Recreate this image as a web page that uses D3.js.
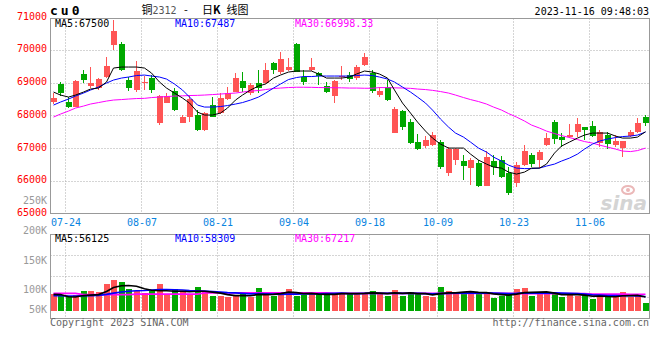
<!DOCTYPE html>
<html><head><meta charset="utf-8">
<script src="https://cdn.jsdelivr.net/npm/d3@7"></script>
<style>
body{margin:0;background:#fff}
text{font-family:"DejaVu Sans Mono",monospace;font-size:10px}
</style>
</head><body>
<svg id="chart" width="660" height="360"></svg>
<script>
// ---- data ----
const openP  = [68416,68958,68416,68263,69264,68897,68826,69181,70152,70173,69080,68774,69000,69132,67755,68385,68743,67773,67957,68009,
                67550,68315,68061,68490,68722,69059,68673,69000,69000,69591,69334,69386,70173,69181,69386,69285,68897,68590,69172,69233,
                69132,69539,69305,68621,68876,67467,68131,67804,67192,67060,67091,67173,66243,66631,66601,66377,66549,65845,66601,66631,
                66224,65918,66478,66784,66631,67091,67804,67345,67326,67498,67651,67672,67143,67397,67091,67008,67366,67498,67957];
const highP  = [68682,69019,68551,69080,69386,69488,69141,69793,70917,70253,69181,69671,69212,69233,68621,68673,68826,68009,68621,68162,
                68100,68551,68673,68857,69304,69334,68979,69386,69591,69641,69937,69745,70204,69386,69745,69334,69028,69080,69509,69334,
                69539,69916,69386,68876,69080,68263,68162,67886,67427,67366,67498,67244,67039,66999,66784,66693,66631,66907,66784,66754,
                66408,66579,67091,66855,66937,67458,67856,67458,67733,67908,67651,67835,67550,67498,67397,67213,67550,67908,68009];
const lowP   = [68346,68590,68214,68254,68979,68826,68774,69132,70000,69356,68753,68722,68774,68673,67703,68367,68131,67755,67804,67519,
                67519,67948,68040,68468,68713,68722,68621,68673,68958,69264,69264,69356,69325,68927,69356,68927,68673,68367,69080,69028,
                69080,69509,68673,68569,68453,67458,67550,67121,66937,66989,67060,66347,66141,66478,66019,65866,65805,65835,66172,66080,
                65560,65796,66448,66426,66387,67060,67121,67039,67305,67345,67244,67345,67039,66959,67039,66714,67326,67467,67672];
const closeP = [68520,68673,68263,69050,69080,69000,69101,69509,70589,69386,68826,69356,69030,68774,68590,68590,68162,67957,68490,67550,
                68061,67957,68520,68691,69132,68826,68927,68826,69386,69386,69714,69488,69334,69028,69488,69203,68722,69059,69193,69101,
                69488,69793,68743,68753,68468,68193,67632,67143,66959,67244,67397,66408,66959,66959,66448,66631,65836,66714,66427,66102,
                65612,66478,66907,66509,66885,67314,67274,67244,67397,67733,67550,67375,67498,67112,67213,67213,67479,67773,67773];
const ma5  = [68713,68621,68560,68621,68713,68805,68835,69019,69447,69478,69478,69478,69447,69294,69019,68835,68682,68529,68376,68101,
              68009,68009,68070,68223,68468,68621,68774,68897,68958,69141,69233,69325,69356,69356,69356,69264,69141,69141,69141,69172,
              69264,69356,69325,69264,69141,68774,68376,68070,67795,67519,67305,67121,66999,66999,66999,66815,66631,66509,66417,66386,
              66264,66203,66264,66386,66386,66509,66846,67060,67183,67305,67397,67458,67458,67458,67366,67305,67305,67335,67500];
const ma10 = [68315,68407,68499,68590,68682,68774,68866,68988,69080,69141,69172,69218,69233,69203,69172,69111,68958,68774,68560,68315,
              68254,68254,68269,68300,68346,68391,68468,68560,68682,68835,68958,69095,69157,69187,69187,69203,69203,69203,69203,69203,
              69218,69233,69218,69172,69111,69019,68866,68713,68560,68376,68162,67886,67642,67458,67335,67182,66999,66876,66723,66601,
              66478,66386,66371,66371,66386,66448,66509,66601,66693,66815,66968,67121,67213,67274,67320,67351,67366,67397,67487];
const ma30 = [67948,68039,68131,68223,68284,68346,68391,68437,68468,68483,68499,68514,68520,68544,68560,68575,68590,68597,68606,68612,
              68621,68636,68652,68667,68682,68713,68743,68759,68789,68820,68835,68851,68860,68860,68857,68851,68848,68845,68842,68835,
              68835,68829,68829,68851,68848,68842,68835,68826,68805,68789,68765,68728,68682,68621,68545,68483,68422,68346,68254,68162,
              68055,67948,67826,67703,67611,67519,67443,67381,67320,67259,67198,67152,67090,67029,66968,66907,66892,66922,66998.33];
const volume = [67,61,60,64,81,81,77,109,126,118,88,81,71,81,109,64,88,81,68,97,
                75,61,61,56,59,75,56,93,64,61,77,88,60,64,67,67,67,71,71,71,
                70,68,82,67,61,85,61,78,67,61,57,97,81,67,77,78,71,67,53,61,
                72,89,93,60,67,77,71,56,67,61,64,49,61,61,57,77,57,63,33].map(v => v*1000);
const volMa5 = [67,66,57,56,62,64,66,79,95,102,103,100,90,84,82,82,80,80,78,80,
                80,76,72,66,62,62,61,67,66,67,70,76,74,70,71,68,67,67,70,70,
                70,71,73,72,70,73,71,73,70,70,65,70,73,73,76,78,75,74,69,66,
                64,68,74,75,76,77,72,66,66,66,64,59,60,58,57,61,62,63,56.125].map(v => v*1000);
const volMa10 = [62,61,60,60,61,62,63,67,72,77,80,82,83,85,87,87,86,85,83,82,
                 81,79,76,74,73,71,69,70,69,68,67,68,68,69,69,69,70,71,72,70,
                 70,71,72,71,71,72,71,71,71,70,69,70,71,72,72,72,72,73,72,71,
                 70,71,73,72,72,72,73,72,71,70,68,65,64,62,62,61,61,60,58.309].map(v => v*1000);
const volMa30 = [71,71,71,71,66,66,66,66,66,66,66,68,68,68,68,68,68,68,68,68,
                 73,73,73,73,73,73,73,73,73,73,73,73,73,73,73,73,73,71,71,71,
                 71,71,71,71,71,71,71,71,71,71,71,71,71,71,71,71,71,71,71,71,
                 71,70,70,70,70,70,70,70,70,70,70,68,68,68,68,68,67.5,67.3,67.217].map(v => v*1000);
const dateTickIndex  = [1,11,21,31,41,50,60,70];
const dateTickLabels = ["07-24","08-07","08-21","09-04","09-18","10-09","10-23","11-06"];
const priceTicks = [71000,70000,69000,68000,67000,66000,65000];
const volTicks = [250000,200000,150000,100000,50000];
const volTickLabels = ["250K","200K","150K","100K","50K"];
const legendPrice = [["MA5:67500","#000"],["MA10:67487","#0000ff"],["MA30:66998.33","#ff00ff"]];
const legendVol = [["MA5:56125","#000"],["MA10:58309","#0000ff"],["MA30:67217","#ff00ff"]];

// ---- drawing ----
const svg = d3.select("#chart");
const RED = "#ff5555", GREEN = "#00a800", GRID = "#aaaaaa", FRAME = "#999999";
const n = closeP.length;
const L = 50.5, Rt = 649.5, STEP = 7.597;
const x = d3.scaleLinear().domain([0, 79]).range([L, L + 79*STEP]);
const y = d3.scaleLinear().domain([65000, 71000]).range([213.4, 17.3]);
const yv = d3.scaleLinear().domain([0, 100000]).range([310.7, 310.7 - 24.39]);
const yvLabel = d3.scaleLinear().domain(volTicks).range([201.6, 231.6, 261.6, 290.9, 310.9]);
const BW = 6;
const bx = i => Math.round(x(i));
const cx = i => bx(i) + 2.5;

const P = {top:18.5, bot:213.5}, V = {top:234.5, bot:318.5};
const g = svg.append("g");
g.selectAll(".hg").data(priceTicks.slice(1, -1)).join("line")
  .attr("x1", L).attr("x2", Rt).attr("y1", d => Math.round(y(d)) + 0.5).attr("y2", d => Math.round(y(d)) + 0.5)
  .attr("stroke", GRID).attr("stroke-dasharray", "1,2");
[255.5, 276.5, 297.5].forEach(v => g.append("line").attr("x1", L).attr("x2", Rt).attr("y1", v).attr("y2", v)
  .attr("stroke", GRID).attr("stroke-dasharray", "1,2"));
dateTickIndex.forEach(i => {
  const gx = Math.round(x(i + 1)) - 0.5;
  [[P.top, P.bot], [V.top, V.bot]].forEach(([a, b]) =>
    g.append("line").attr("x1", gx).attr("x2", gx).attr("y1", a).attr("y2", b)
      .attr("stroke", GRID).attr("stroke-dasharray", "1,2"));
});

const cg = svg.append("g").attr("shape-rendering", "crispEdges");
d3.range(n).forEach(i => {
  const up = closeP[i] >= openP[i];
  const col = up ? RED : GREEN;
  cg.append("line").attr("x1", cx(i)).attr("x2", cx(i)).attr("y1", y(highP[i])).attr("y2", y(lowP[i]))
    .attr("stroke", col).attr("stroke-width", 1);
  const t = y(Math.max(openP[i], closeP[i])), b = y(Math.min(openP[i], closeP[i]));
  cg.append("rect").attr("x", bx(i)).attr("y", t).attr("width", BW).attr("height", Math.max(1, b - t)).attr("fill", col);
});

const line = d3.line().x((d, i) => cx(i)).y(d => y(d));
[[ma30, "#ff00ff"], [ma10, "#0000ff"], [ma5, "#000"]].forEach(([arr, c]) =>
  svg.append("path").attr("d", line(arr)).attr("fill", "none").attr("stroke", c).attr("stroke-width", 1));

const vg = svg.append("g").attr("shape-rendering", "crispEdges");
d3.range(n).forEach(i => {
  const up = closeP[i] >= openP[i];
  vg.append("rect").attr("x", bx(i)).attr("y", yv(volume[i])).attr("width", BW)
    .attr("height", yv(0) - yv(volume[i])).attr("fill", up ? RED : GREEN);
});
const vline = d3.line().x((d, i) => cx(i)).y(d => yv(d));
[[volMa30, "#ff00ff"], [volMa10, "#0000ff"], [volMa5, "#000"]].forEach(([arr, c]) =>
  svg.append("path").attr("d", vline(arr)).attr("fill", "none").attr("stroke", c).attr("stroke-width", 1.6));

[[P.top, P.bot], [V.top, V.bot]].forEach(([a, b]) =>
  svg.append("rect").attr("x", L).attr("y", a).attr("width", Rt - L).attr("height", b - a)
    .attr("fill", "none").attr("stroke", FRAME).attr("stroke-width", 1));

svg.selectAll(".pl").data(priceTicks).join("text")
  .attr("x", 47).attr("y", d => y(d) + 2.5).attr("text-anchor", "end").attr("fill", "#ff0000").text(d => d);
svg.selectAll(".vl").data(volTicks).join("text")
  .attr("x", 47).attr("y", d => yvLabel(d) + 2.5).attr("text-anchor", "end").attr("fill", "#999").text((d, i) => volTickLabels[i]);
svg.selectAll(".dl").data(dateTickIndex).join("text")
  .attr("x", d => Math.round(x(d + 1))).attr("y", 225.5).attr("text-anchor", "middle").attr("fill", "#0a84e0")
  .text((d, i) => dateTickLabels[i]);

const legX = [55, 175, 295];
legendPrice.forEach(([t, c], i) => svg.append("text").attr("x", legX[i]).attr("y", 26.5).attr("fill", c).text(t));
legendVol.forEach(([t, c], i) => svg.append("text").attr("x", legX[i]).attr("y", 242).attr("fill", c).text(t));

svg.append("text").attr("x", 50).attr("y", 15).style("font-weight", "bold").style("font-size", "13px")
  .style("letter-spacing", "3px").attr("fill", "#000").text("cu0");
const th = svg.append("text").attr("y", 14).style("font-family", "'Noto Sans CJK SC', sans-serif").style("font-size", "11px");
th.append("tspan").attr("x", 141.5).attr("fill", "#000").text("铜");
th.append("tspan").attr("x", 152.5).attr("fill", "#555").style("font-family", "'DejaVu Sans Mono', monospace").style("font-size", "10px").text("2312");
th.append("tspan").attr("x", 184).attr("fill", "#000").text("-");
th.append("tspan").attr("x", 202).attr("fill", "#000").text("日");
th.append("tspan").attr("x", 213).attr("fill", "#000").style("font-weight", "bold").text("K");
th.append("tspan").attr("x", 226.5).attr("fill", "#000").text("线图");
svg.append("text").attr("x", 649).attr("y", 15).attr("text-anchor", "end").attr("fill", "#000").text("2023-11-16 09:48:03");

svg.append("text").attr("x", 50).attr("y", 326).attr("fill", "#666").text("Copyright 2023 SINA.COM");
svg.append("text").attr("x", 649).attr("y", 326).attr("text-anchor", "end").attr("fill", "#666").text("http://finance.sina.com.cn");

svg.append("text").attr("x", 647).attr("y", 210).attr("text-anchor", "end")
  .style("font-family", "'DejaVu Sans', sans-serif").style("font-size", "20px").style("font-weight", "bold").style("font-style", "italic")
  .attr("fill", "#d4d4d4").text("sina");
svg.append("ellipse").attr("cx", 628).attr("cy", 190).attr("rx", 6).attr("ry", 4).attr("fill", "none").attr("stroke", "#ebb8b8").attr("stroke-width", 2);
svg.append("circle").attr("cx", 628).attr("cy", 190).attr("r", 2).attr("fill", "#ebb8b8");
</script>
</body></html>
